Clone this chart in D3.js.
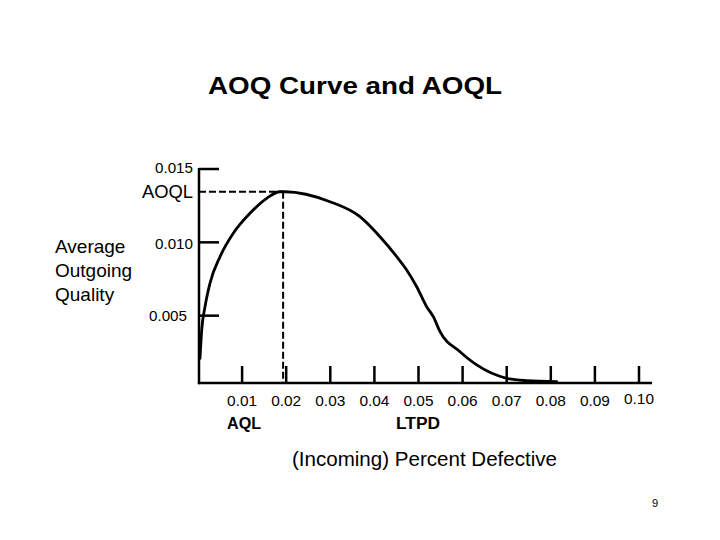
<!DOCTYPE html>
<html>
<head>
<meta charset="utf-8">
<script src="https://cdn.jsdelivr.net/npm/d3@7"></script>
<style>
  html, body { margin: 0; padding: 0; background: #fff; }
  svg { display: block; font-family: "Liberation Sans", Arial, sans-serif; }
</style>
</head>
<body>
<svg id="chart" width="720" height="540"></svg>
<script>
// ---- data ----
const xTickValues = [0.01, 0.02, 0.03, 0.04, 0.05, 0.06, 0.07, 0.08, 0.09, 0.10];
const xTickLabels = ["0.01", "0.02", "0.03", "0.04", "0.05", "0.06", "0.07", "0.08", "0.09", "0.10"];
const yTickValues = [0.015, 0.010, 0.005];
const yTickLabels = ["0.015", "0.010", "0.005"];
const incomingDefective = [0.00045, 0.00084, 0.00159, 0.00272, 0.00499, 0.00800, 0.01179, 0.01558, 0.01859, 0.01973,
  0.02993, 0.03673, 0.04127, 0.04506, 0.04732, 0.04959, 0.05186, 0.05336, 0.05488, 0.05941, 0.06320, 0.07000, 0.07454, 0.08134];
const aoqValues = [0.00209, 0.00402, 0.00561, 0.00721, 0.00902, 0.01062, 0.01198, 0.01300, 0.01345, 0.01345,
  0.01277, 0.01175, 0.01038, 0.00902, 0.00811, 0.00697, 0.00561, 0.00493, 0.00391, 0.00254, 0.00164, 0.00073, 0.00057, 0.00050];
const aoqlValue = 0.01345;
const aoqlAt = 0.0193;
const title = "AOQ Curve and AOQL";
const yTitleLines = ["Average", "Outgoing", "Quality"];
const xTitle = "(Incoming) Percent Defective";
const pageNumber = "9";

// ---- layout ----
const svg = d3.select("#chart");
const x = d3.scaleLinear().domain([0, 0.10]).range([198, 639]);
const y = d3.scaleLinear().domain([0, 0.015]).range([389, 169]);
const baseY = 383;
const axisLeft = 199;
const axisRight = 652;

// title
svg.append("text").attr("x", 355).attr("y", 94).attr("text-anchor", "middle")
  .attr("font-size", 23.5).attr("font-weight", "bold")
  .attr("textLength", 294).attr("lengthAdjust", "spacingAndGlyphs").text(title);

// dashed AOQL guides
svg.append("line").attr("x1", axisLeft).attr("x2", x(aoqlAt))
  .attr("y1", y(aoqlValue)).attr("y2", y(aoqlValue))
  .attr("stroke", "#000").attr("stroke-width", 2).attr("stroke-dasharray", "7,3");
svg.append("line").attr("x1", x(aoqlAt)).attr("x2", x(aoqlAt))
  .attr("y1", y(aoqlValue)).attr("y2", baseY)
  .attr("stroke", "#000").attr("stroke-width", 2).attr("stroke-dasharray", "7,3");

// axes lines
svg.append("line").attr("x1", axisLeft).attr("x2", axisLeft)
  .attr("y1", y(0.015) - 1).attr("y2", baseY + 1.2)
  .attr("stroke", "#000").attr("stroke-width", 2.5);
svg.append("line").attr("x1", axisLeft - 1.2).attr("x2", axisRight)
  .attr("y1", baseY).attr("y2", baseY)
  .attr("stroke", "#000").attr("stroke-width", 2.5);

// y ticks (inward)
svg.selectAll(".ytick").data(yTickValues).enter().append("line")
  .attr("x1", axisLeft).attr("x2", axisLeft + 20)
  .attr("y1", d => y(d)).attr("y2", d => y(d))
  .attr("stroke", "#000").attr("stroke-width", 2.5);
svg.selectAll(".ylab").data(yTickValues).enter().append("text")
  .attr("x", (d, i) => i === 2 ? 187 : 193)
  .attr("y", (d, i) => y(d) + (i === 0 ? 4 : (i === 1 ? 7 : 5)))
  .attr("text-anchor", "end").attr("font-size", 15)
  .attr("textLength", 38).attr("lengthAdjust", "spacingAndGlyphs")
  .text((d, i) => yTickLabels[i]);

// AOQL label
svg.append("text").attr("x", 193).attr("y", y(aoqlValue) + 6)
  .attr("text-anchor", "end").attr("font-size", 17.5)
  .attr("textLength", 51).attr("lengthAdjust", "spacingAndGlyphs").text("AOQL");

// x ticks (upward)
svg.selectAll(".xtick").data(xTickValues).enter().append("line")
  .attr("x1", d => x(d)).attr("x2", d => x(d))
  .attr("y1", baseY).attr("y2", baseY - 17)
  .attr("stroke", "#000").attr("stroke-width", 2.5);
svg.selectAll(".xlab").data(xTickValues).enter().append("text")
  .attr("x", d => x(d)).attr("y", (d, i) => i === 9 ? 404 : 406)
  .attr("text-anchor", "middle").attr("font-size", 15)
  .attr("textLength", 30).attr("lengthAdjust", "spacingAndGlyphs")
  .text((d, i) => xTickLabels[i]);

// AQL / LTPD labels
svg.append("text").attr("x", 227).attr("y", 429).attr("font-size", 16)
  .attr("font-weight", "bold").attr("textLength", 34).attr("lengthAdjust", "spacingAndGlyphs").text("AQL");
svg.append("text").attr("x", 396).attr("y", 429).attr("font-size", 16)
  .attr("font-weight", "bold").attr("textLength", 44).attr("lengthAdjust", "spacingAndGlyphs").text("LTPD");

// axis titles
const yt = svg.append("text").attr("font-size", 19);
yTitleLines.forEach((t, i) => {
  yt.append("tspan").attr("x", 55).attr("y", 253 + i * 24).text(t);
});
svg.append("text").attr("x", 292).attr("y", 466).attr("font-size", 20)
  .attr("textLength", 265).attr("lengthAdjust", "spacingAndGlyphs").text(xTitle);

// page number
svg.append("text").attr("x", 655).attr("y", 507).attr("text-anchor", "middle")
  .attr("font-size", 11).text(pageNumber);

// AOQ curve
const pts = incomingDefective.map((d, i) => [d, aoqValues[i]]);
const line = d3.line().x(d => x(d[0])).y(d => y(d[1])).curve(d3.curveMonotoneX);
svg.append("path").datum(pts).attr("d", line)
  .attr("fill", "none").attr("stroke", "#000").attr("stroke-width", 2.8)
  .attr("stroke-linejoin", "round").attr("stroke-linecap", "round");
</script>
</body>
</html>
